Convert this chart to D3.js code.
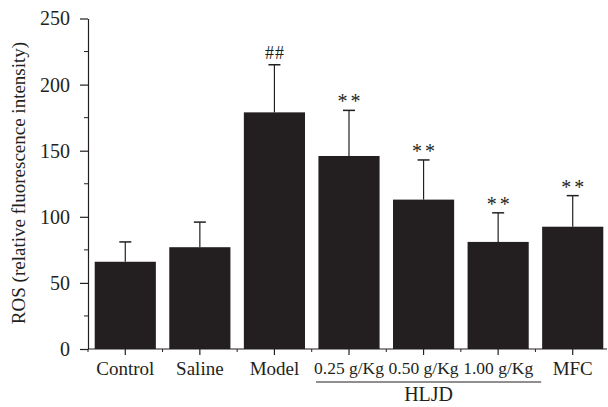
<!DOCTYPE html>
<html>
<head>
<meta charset="utf-8">
<script src="https://cdn.jsdelivr.net/npm/d3@7"></script>
<style>
  body { margin: 0; background: #fff; }
  text { font-family: "Liberation Serif", "DejaVu Serif", serif; fill: #231f20; }
</style>
</head>
<body>
<script>
// data
var groups = ["Control", "Saline", "Model", "0.25 g/Kg", "0.50 g/Kg", "1.00 g/Kg", "MFC"];
var means  = [66, 77, 179, 146, 113, 81, 92.5];
var errTop = [81, 96, 215, 180.5, 143, 103, 116];
var marks  = ["", "", "##", "**", "**", "**", "**"];
var yTicks = [0, 50, 100, 150, 200, 250];
var yMinor = [25, 75, 125, 175, 225];

var width = 608, height = 407;
var x0 = 88, x1 = 610, yTop = 18.5, yBot = 349;
var ink = "#231f20";

var svg = d3.select("body").append("svg")
    .attr("width", width)
    .attr("height", height);

var x = d3.scaleBand()
    .domain(groups)
    .range([x0, x1])
    .paddingInner(0.18)
    .paddingOuter(0.09);

var y = d3.scaleLinear()
    .domain([0, 250])
    .range([yBot, yTop]);

// bars
svg.selectAll(".bar")
    .data(groups)
  .enter().append("rect")
    .attr("class", "bar")
    .attr("x", function(d) { return x(d); })
    .attr("y", function(d, i) { return y(means[i]); })
    .attr("width", x.bandwidth())
    .attr("height", function(d, i) { return y(0) - y(means[i]); })
    .attr("fill", ink);

// error bars (upper half only)
var cx = function(d) { return x(d) + x.bandwidth() / 2; };
svg.selectAll(".err")
    .data(groups)
  .enter().append("line")
    .attr("x1", cx).attr("x2", cx)
    .attr("y1", function(d, i) { return y(means[i]); })
    .attr("y2", function(d, i) { return y(errTop[i]); })
    .attr("stroke", ink).attr("stroke-width", 1.2);
svg.selectAll(".cap")
    .data(groups)
  .enter().append("line")
    .attr("x1", function(d) { return cx(d) - 6; })
    .attr("x2", function(d) { return cx(d) + 6; })
    .attr("y1", function(d, i) { return y(errTop[i]); })
    .attr("y2", function(d, i) { return y(errTop[i]); })
    .attr("stroke", ink).attr("stroke-width", 1.5);

// significance marks
svg.selectAll(".sig")
    .data(groups)
  .enter().append("text")
    .attr("x", function(d, i) { return cx(d) + (marks[i] == "##" ? 0.5 : 1.5); })
    .attr("y", function(d, i) { return y(errTop[i]) - (marks[i] == "##" ? 5.5 : 2); })
    .attr("text-anchor", "middle")
    .style("font-size", function(d, i) { return marks[i] == "##" ? "18px" : "20px"; })
    .style("letter-spacing", function(d, i) { return marks[i] == "##" ? "1px" : "3px"; })
    .text(function(d, i) { return marks[i]; });

// y axis
var yAxis = svg.append("g")
    .attr("transform", "translate(" + x0 + ",0)");
yAxis.call(d3.axisLeft(y).tickValues(yTicks).tickSize(8).tickPadding(10).tickSizeOuter(0));
yAxis.selectAll(".minor")
    .data(yMinor)
  .enter().append("line")
    .attr("class", "minor")
    .attr("x1", -4).attr("x2", 0)
    .attr("y1", function(d) { return y(d); })
    .attr("y2", function(d) { return y(d); })
    .attr("stroke", ink);
yAxis.selectAll(".tick text").style("font-size", "20px");

// x axis
var xAxis = svg.append("g")
    .attr("transform", "translate(0," + yBot + ")");
xAxis.call(d3.axisBottom(x).tickSize(6).tickPadding(7).tickSizeOuter(0));
xAxis.select(".domain").attr("d", "M" + x0 + ",0H" + (width - 1));
xAxis.selectAll(".minor")
    .data(d3.range(groups.length + 1))
  .enter().append("line")
    .attr("class", "minor")
    .attr("x1", function(i) { return x0 + i * x.step(); })
    .attr("x2", function(i) { return x0 + i * x.step(); })
    .attr("y1", 0).attr("y2", 3)
    .attr("stroke", ink);
xAxis.selectAll(".tick text")
    .style("font-size", function(d) { return d.indexOf("g/Kg") > 0 ? "17.5px" : "19px"; });

svg.selectAll(".domain, .tick line").attr("stroke", ink).attr("stroke-width", 1.2);
svg.selectAll(".tick text").attr("fill", ink);

// HLJD bracket under the three dose groups
var hl = [cx(groups[3]) - 33, cx(groups[5]) + 43];
svg.append("line")
    .attr("x1", hl[0]).attr("x2", hl[1])
    .attr("y1", 382).attr("y2", 382)
    .attr("stroke", ink).attr("stroke-width", 1.2);
svg.append("text")
    .attr("x", cx(groups[4]) + 5)
    .attr("y", 401)
    .attr("text-anchor", "middle")
    .style("font-size", "20px")
    .text("HLJD");

// y label
svg.append("text")
    .attr("transform", "translate(25,183) rotate(-90)")
    .attr("text-anchor", "middle")
    .style("font-size", "19px")
    .text("ROS (relative fluorescence intensity)");
</script>
</body>
</html>
